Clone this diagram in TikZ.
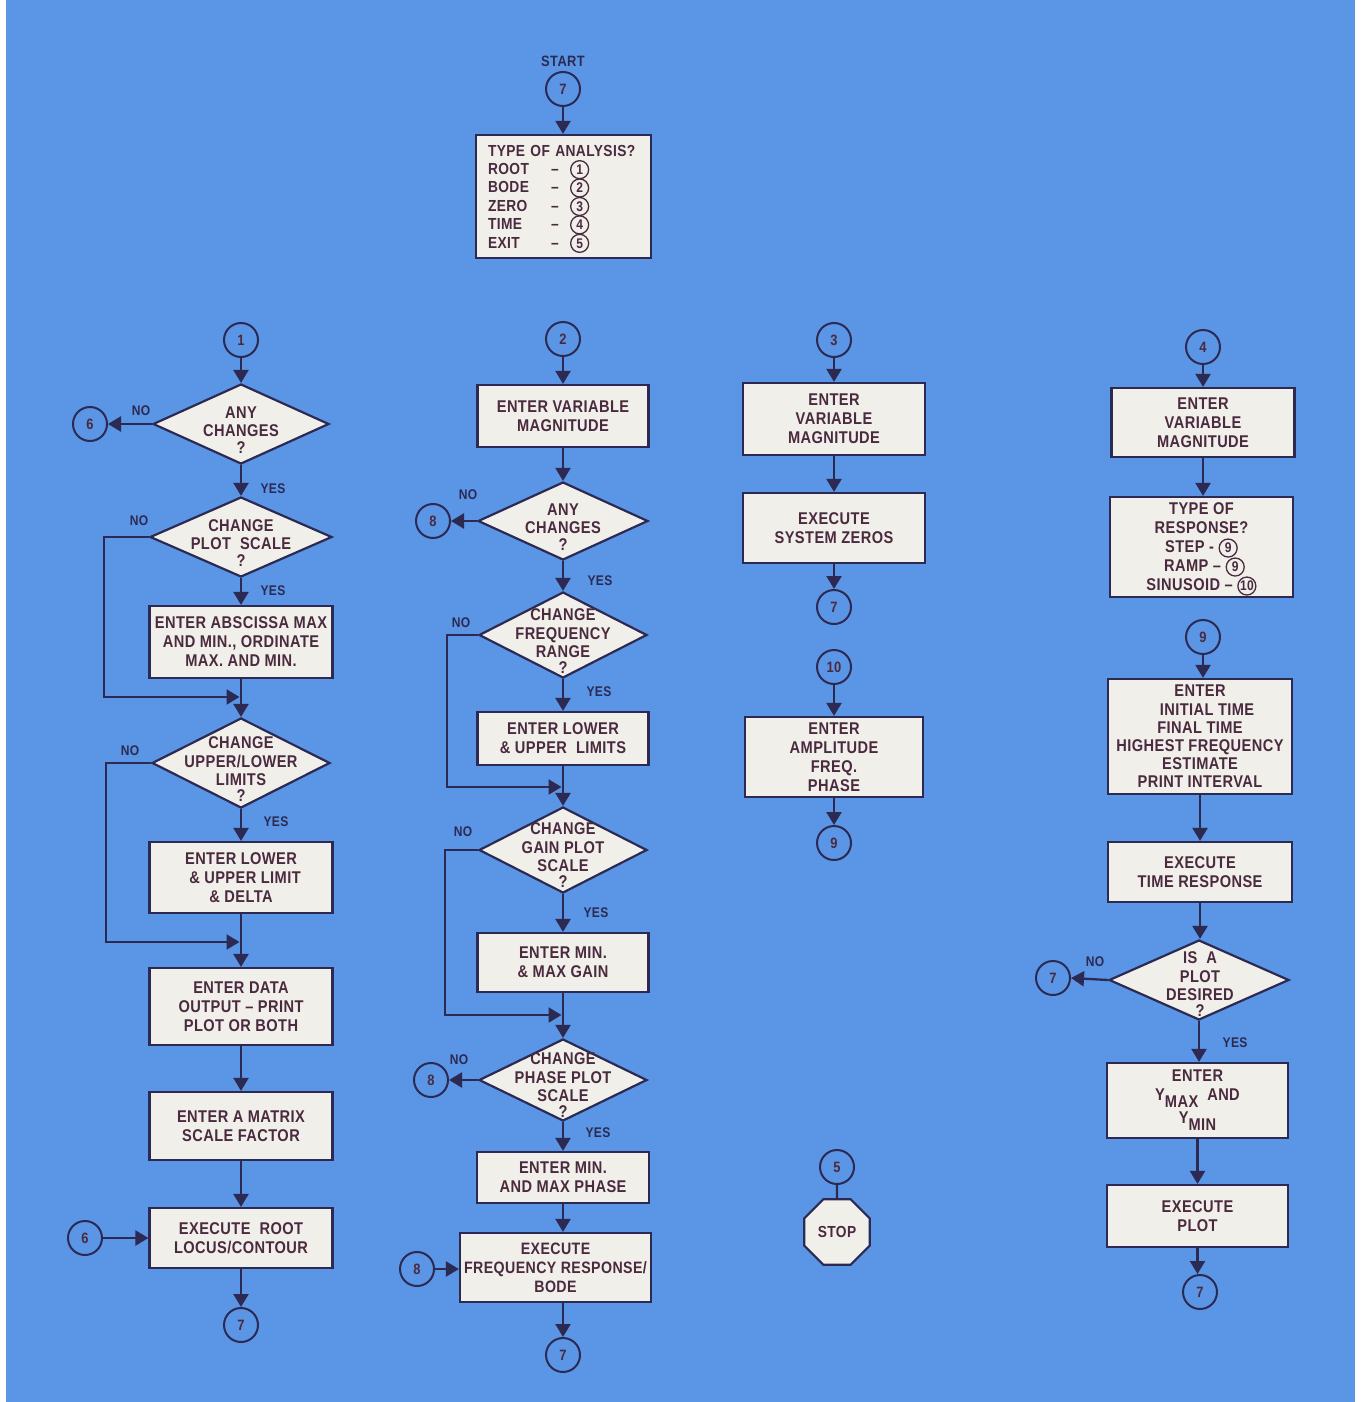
\documentclass[tikz,border=0pt]{standalone}
\usepackage{fontspec}
\usetikzlibrary{shapes.geometric,arrows.meta}
\setmainfont{Liberation Sans}
\newfontfamily\flowfont[FakeStretch=0.86,LetterSpace=2.5,Ligatures=TeX]{Liberation Sans}
\definecolor{bg}{HTML}{5A95E6}
\definecolor{boxfill}{HTML}{F1EFEA}
\definecolor{ink}{HTML}{2C2A52}
\definecolor{txt}{HTML}{4A2A3E}
% small circled reference number used inside the boxes
\newcommand\cnum[1]{\smash{\tikz[baseline=(cn.base)]\node[circle,draw=txt,line width=1.3pt,inner sep=0pt,minimum size=18pt,text=txt,font=\flowfont\bfseries\fontsize{14}{14}\selectfont](cn){#1};}}
\begin{document}
\begin{tikzpicture}[x=1pt,y=-1pt,
  proc/.style={draw=ink,line width=2.2pt,fill=boxfill,inner sep=0pt,align=center,text=txt,
    font=\flowfont\bfseries\fontsize{17}{19}\selectfont},
  decn/.style={diamond,draw=ink,line width=2.2pt,fill=boxfill,inner sep=0pt},
  dtext/.style={align=center,text=txt,font=\flowfont\bfseries\fontsize{17}{18.5}\selectfont},
  conn/.style={circle,draw=ink,line width=2pt,minimum size=34pt,inner sep=0pt,text=txt,
    font=\flowfont\bfseries\fontsize{15}{15}\selectfont},
  flow/.style={draw=ink,line width=2.3pt,-{Triangle[width=15pt,length=13pt]}},
  plain/.style={draw=ink,line width=2.3pt},
  lbl/.style={text=ink,font=\flowfont\bfseries\fontsize{14}{14}\selectfont}]
\useasboundingbox (0,0) rectangle (1362,1402);
\fill[white] (0,0) rectangle (1362,1402);
\fill[bg] (6,0) rectangle (1355,1402);

% ---------------- root locus branch ----------------
\node[conn] (c1) at (241,340) {1};
\node[decn,minimum width=176pt,minimum height=80pt] (d1) at (241,424) {};
\node[dtext] at (241,430) {ANY\\CHANGES\\[-2pt]?};
\node[conn] (c6a) at (90,424) {6};
\node[decn,minimum width=182pt,minimum height=80pt] (d2) at (241,537) {};
\node[dtext] at (241,543) {CHANGE\\PLOT\ \ SCALE\\[-2pt]?};
\node[proc,minimum width=183pt,minimum height=72pt] (abs) at (241,642) {ENTER ABSCISSA MAX\\AND MIN., ORDINATE\\MAX. AND MIN.};
\coordinate (j1) at (241,697);
\node[decn,minimum width=178pt,minimum height=90pt] (d3) at (241,763) {};
\node[dtext] at (241,769) {CHANGE\\UPPER/LOWER\\LIMITS\\[-3pt]?};
\node[proc,minimum width=183pt,minimum height=71pt] (lim) at (241,877.5) {ENTER LOWER\\\hspace*{8pt}\& UPPER LIMIT\\\& DELTA};
\coordinate (j2) at (241,942);
\node[proc,minimum width=183pt,minimum height=77pt] (data) at (241,1006.5) {ENTER DATA\\OUTPUT – PRINT\\PLOT OR BOTH};
\node[proc,minimum width=183pt,minimum height=68pt] (mat) at (241,1126) {ENTER A MATRIX\\SCALE FACTOR};
\node[proc,minimum width=183pt,minimum height=60pt] (root) at (241,1238) {EXECUTE\ \ ROOT\\LOCUS/CONTOUR};
\node[conn] (c6b) at (85,1238) {6};
\node[conn] (c7a) at (241,1325) {7};

\draw[flow] (c1.south) -- (d1.north);
\draw[flow] (d1.west) -- (c6a.east);
\node[lbl] at (141,411) {NO};
\draw[flow] (d1.south) -- (d2.north);
\node[lbl] at (273,489) {YES};
\draw[flow] (d2.south) -- (abs.north);
\node[lbl] at (273,591) {YES};
\draw[flow,shorten >=1.5pt] (d2.west) -- ++(-45,0) |- (j1);
\node[lbl] at (139,521) {NO};
\draw[flow] (abs.south) -- (d3.north);
\draw[flow,shorten >=1.5pt] (d3.west) -- ++(-45,0) |- (j2);
\node[lbl] at (130,751) {NO};
\draw[flow] (d3.south) -- (lim.north);
\node[lbl] at (276,822) {YES};
\draw[flow] (lim.south) -- (data.north);
\draw[flow] (data.south) -- (mat.north);
\draw[flow] (mat.south) -- (root.north);
\draw[flow] (c6b.east) -- (root.west);
\draw[flow] (root.south) -- (c7a.north);

% ---------------- entry and Bode branch ----------------
\node[text=ink,font=\flowfont\bfseries\fontsize{15}{15}\selectfont] (start) at (563,61) {START};
\node[conn] (c7s) at (563,89) {7};
\node[draw=ink,line width=2.2pt,fill=boxfill,minimum width=175pt,minimum height=123pt,
  inner xsep=12pt,inner ysep=0pt,text width=151pt,align=left,text=txt,
  font=\flowfont\bfseries\fontsize{16}{18.4}\selectfont] (type) at (563.5,196.5)
  {TYPE OF ANALYSIS?\\
   \makebox[56pt][l]{ROOT}\makebox[22pt][c]{–}\hspace{4pt}\cnum{1}\\
   \makebox[56pt][l]{BODE}\makebox[22pt][c]{–}\hspace{4pt}\cnum{2}\\
   \makebox[56pt][l]{ZERO}\makebox[22pt][c]{–}\hspace{4pt}\cnum{3}\\
   \makebox[56pt][l]{TIME}\makebox[22pt][c]{–}\hspace{4pt}\cnum{4}\\
   \makebox[56pt][l]{EXIT}\makebox[22pt][c]{–}\hspace{4pt}\cnum{5}};
\draw[flow] (c7s.south) -- (c7s.south |- type.north);

\node[conn] (c2) at (563,339) {2};
\node[proc,minimum width=171pt,minimum height=62pt] (var2) at (563,416) {ENTER VARIABLE\\MAGNITUDE};
\node[decn,minimum width=170pt,minimum height=78pt] (dA) at (563,521) {};
\node[dtext] at (563,527) {ANY\\CHANGES\\[-2pt]?};
\node[conn] (c8a) at (433,521) {8};
\node[decn,minimum width=168pt,minimum height=86pt] (dF) at (563,635) {};
\node[dtext] at (563,641) {CHANGE\\FREQUENCY\\RANGE\\[-3pt]?};
\node[proc,minimum width=171pt,minimum height=53pt] (lowup) at (563,738.5) {ENTER LOWER\\\& UPPER\ \ LIMITS};
\coordinate (j3) at (563,787);
\node[decn,minimum width=168pt,minimum height=86pt] (dG) at (563,850) {};
\node[dtext] at (563,855) {CHANGE\\GAIN PLOT\\SCALE\\[-3pt]?};
\node[proc,minimum width=171pt,minimum height=59pt] (gain) at (563,962.5) {ENTER MIN.\\\& MAX GAIN};
\coordinate (j4) at (563,1015);
\node[decn,minimum width=168pt,minimum height=82pt] (dP) at (563,1080) {};
\node[dtext] at (563,1085) {CHANGE\\PHASE PLOT\\SCALE\\[-3pt]?};
\node[conn] (c8b) at (431,1080) {8};
\node[proc,minimum width=172pt,minimum height=51pt] (phase) at (563,1177.5) {ENTER MIN.\\AND MAX PHASE};
\node[proc,minimum width=191pt,minimum height=69pt,font=\flowfont\bfseries\fontsize{16.5}{19}\selectfont] (freq) at (555.5,1267.5) {EXECUTE\\FREQUENCY RESPONSE/\\BODE};
\node[conn] (c8c) at (417,1269) {8};
\node[conn] (c7b) at (563,1355) {7};

\draw[flow] (c2.south) -- (var2.north);
\draw[flow] (var2.south) -- (dA.north);
\draw[flow] (dA.west) -- (c8a.east);
\node[lbl] at (468,495) {NO};
\draw[flow] (dA.south) -- (dF.north);
\node[lbl] at (600,581) {YES};
\draw[flow] (dF.south) -- (lowup.north);
\node[lbl] at (599,692) {YES};
\draw[flow,shorten >=1.5pt] (dF.west) -- ++(-31,0) |- (j3);
\node[lbl] at (461,623) {NO};
\draw[flow] (lowup.south) -- (dG.north);
\draw[flow] (dG.south) -- (gain.north);
\node[lbl] at (596,913) {YES};
\draw[flow,shorten >=1.5pt] (dG.west) -- ++(-33,0) |- (j4);
\node[lbl] at (463,832) {NO};
\draw[flow] (gain.south) -- (dP.north);
\draw[flow] (dP.west) -- (c8b.east);
\node[lbl] at (459,1060) {NO};
\draw[flow] (dP.south) -- (phase.north);
\node[lbl] at (598,1133) {YES};
\draw[flow] (phase.south) -- (phase.south |- freq.north);
\draw[flow] (c8c.east) -- (c8c.east -| freq.west);
\draw[flow] (freq.south -| c7b) -- (c7b.north);

% ---------------- system zeros and sinusoid entry ----------------
\node[conn] (c3) at (834,340) {3};
\node[proc,minimum width=182pt,minimum height=72pt] (var3) at (834,419) {ENTER\\VARIABLE\\MAGNITUDE};
\node[proc,minimum width=182pt,minimum height=70pt] (zeros) at (834,528) {EXECUTE\\SYSTEM ZEROS};
\node[conn] (c7c) at (834,607) {7};
\node[conn] (c10) at (834,667) {10};
\node[proc,minimum width=178pt,minimum height=80pt] (amp) at (834,757) {ENTER\\AMPLITUDE\\FREQ.\\PHASE};
\node[conn] (c9b) at (834,843) {9};
\node[conn] (c5) at (837,1167) {5};
\node[regular polygon,regular polygon sides=8,draw=ink,line width=2.2pt,fill=boxfill,
  minimum size=71pt,inner sep=0pt,text=txt,font=\flowfont\bfseries\fontsize{16}{16}\selectfont] (stop) at (837,1232) {STOP};

\draw[flow] (c3.south) -- (var3.north);
\draw[flow] (var3.south) -- (zeros.north);
\draw[flow] (zeros.south) -- (c7c.north);
\draw[flow] (c10.south) -- (amp.north);
\draw[flow] (amp.south) -- (c9b.north);
\draw[plain] (c5.south) -- (stop.north);

% ---------------- time response branch ----------------
\node[conn] (c4) at (1203,347) {4};
\node[proc,minimum width=183pt,minimum height=69pt] (var4) at (1203,422.5) {ENTER\\VARIABLE\\MAGNITUDE};
\node[proc,minimum width=183pt,minimum height=100pt] (resp) at (1201.5,547)
  {TYPE OF\\RESPONSE?\\STEP - \cnum{9}\\\hspace*{6pt}RAMP – \cnum{9}\\SINUSOID – \cnum{10}};
\node[conn] (c9) at (1203,637) {9};
\node[proc,minimum width=184pt,minimum height=115pt,font=\flowfont\bfseries\fontsize{17}{18.2}\selectfont] (times) at (1200,736.5)
  {ENTER\\\hspace*{14pt}INITIAL TIME\\FINAL TIME\\HIGHEST FREQUENCY\\ESTIMATE\\PRINT INTERVAL};
\node[proc,minimum width=184pt,minimum height=60pt] (tresp) at (1200,872) {EXECUTE\\TIME RESPONSE};
\node[decn,minimum width=180pt,minimum height=80pt] (dQ) at (1199,980) {};
\node[dtext] at (1200,984) {IS\ \ A\\PLOT\\DESIRED\\[-3pt]?};
\node[conn] (c7d) at (1053,978) {7};
\node[proc,minimum width=181pt,minimum height=75pt] (ylim) at (1197.5,1100.5)
  {ENTER\\Y\raisebox{-7pt}{MAX}\ \ AND\\[4pt]Y\raisebox{-7pt}{MIN}};
\node[proc,minimum width=181pt,minimum height=62pt] (plot) at (1197.5,1216) {EXECUTE\\PLOT};
\node[conn] (c7e) at (1200,1292) {7};

\draw[flow] (c4.south) -- (c4.south |- var4.north);
\draw[flow] (var4.south) -- (var4.south |- resp.north);
\draw[flow] (c9.south) -- (c9.south |- times.north);
\draw[flow] (times.south) -- (tresp.north);
\draw[flow] (tresp.south) -- (tresp.south |- dQ.north);
\draw[flow] (dQ.west) -- (c7d.east);
\node[lbl] at (1095,962) {NO};
\draw[flow] (dQ.south) -- (dQ.south |- ylim.north);
\node[lbl] at (1235,1043) {YES};
\draw[flow] (ylim.south) -- (ylim.south |- plot.north);
\draw[flow] (plot.south) -- (plot.south |- c7e.north);
\end{tikzpicture}
\end{document}
